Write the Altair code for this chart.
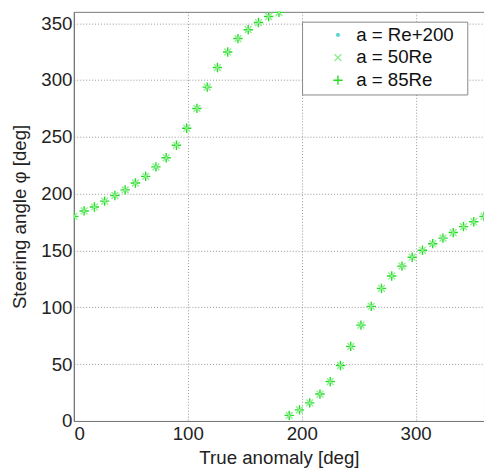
import altair as alt
import pandas as pd

true_anomaly = [0, 9, 18, 27, 36, 45, 54, 63, 72, 81, 90, 99, 108, 117, 126, 135, 144, 153, 162, 171, 180,
                189, 198, 207, 216, 225, 234, 243, 252, 261, 270, 279, 288, 297, 306, 315, 324, 333, 342, 351, 360]
steering = [180, 184.8, 188.3, 193.5, 198.4, 203.4, 209.4, 215.2, 223.6, 231.6, 242.6, 257.6, 275, 293.8,
            311, 324.7, 336.5, 344.3, 350.6, 355.9, 359.5,
            4.9, 9.8, 15.9, 23.7, 34.7, 48.8, 65.6, 84.3, 100.8, 116.7, 127.6, 136.3, 144.1, 150.2, 156,
            160.9, 165.8, 171, 175.3, 180]
series_names = ["a = Re+200", "a = 50Re", "a = 85Re"]
series_colors = ["#33cccc", "#8fef8f", "#22dd22"]
series_shapes = ["circle", "M-1,-1L1,1M-1,1L1,-1", "M-1,0L1,0M0,-1L0,1"]
series_sizes = [6, 90, 110]

rows = []
for name in series_names:
    for t, s in zip(true_anomaly, steering):
        rows.append({"theta": t, "phi": s, "series": name})
df = pd.DataFrame(rows)

FONT = "Liberation Sans"

base = alt.Chart(df)

x = alt.X("theta:Q", scale=alt.Scale(domain=[0, 360], nice=False),
          axis=alt.Axis(values=[0, 100, 200, 300], title="True anomaly [deg]"))
y = alt.Y("phi:Q", scale=alt.Scale(domain=[0, 360], nice=False),
          axis=alt.Axis(values=[0, 50, 100, 150, 200, 250, 300, 350], title="Steering angle φ [deg]"))

color = alt.Color("series:N", scale=alt.Scale(domain=series_names, range=series_colors),
                  legend=alt.Legend(title=" ", titleOrient="right", titleFontSize=1, titlePadding=10,
                                    orient="none", legendX=232, legendY=10))
shape = alt.Shape("series:N", scale=alt.Scale(domain=series_names, range=series_shapes))
size = alt.Size("series:N", scale=alt.Scale(domain=series_names, range=series_sizes))

points = base.mark_point(filled=False, strokeWidth=1.4, opacity=1, clip=True).encode(
    x=x, y=y, color=color, shape=shape, size=size,
    order=alt.Order("series:N", sort="descending"),
)

chart = points.properties(
    width=417, height=416,
    autosize=alt.AutoSizeParams(type="none"),
    padding={"left": 67, "top": 0, "right": 0, "bottom": 50},
).configure(
    font=FONT,
).configure_view(
    stroke="#777777", strokeWidth=1,
).configure_axis(
    labelFont=FONT, titleFont=FONT,
    labelFontSize=19, titleFontSize=19, titleFontWeight="normal",
    labelColor="#222222", titleColor="#222222",
    domainColor="#777777", domainWidth=1.2,
    gridColor="#888888", gridDash=[1, 2], gridWidth=1, gridOpacity=0.9,
    ticks=False, labelPadding=2,
).configure_axisX(
    labelPadding=4, titlePadding=5,
).configure_axisY(
    titlePadding=11,
).configure_legend(
    labelFont=FONT, labelFontSize=19, labelColor="#111111",
    fillColor="white", strokeColor="#888888",
    padding=4, rowPadding=3, labelOffset=9, symbolOffset=23,
    symbolStrokeWidth=1.4,
)

chart.save("out.html", embed_options={"renderer": "svg", "actions": False})
